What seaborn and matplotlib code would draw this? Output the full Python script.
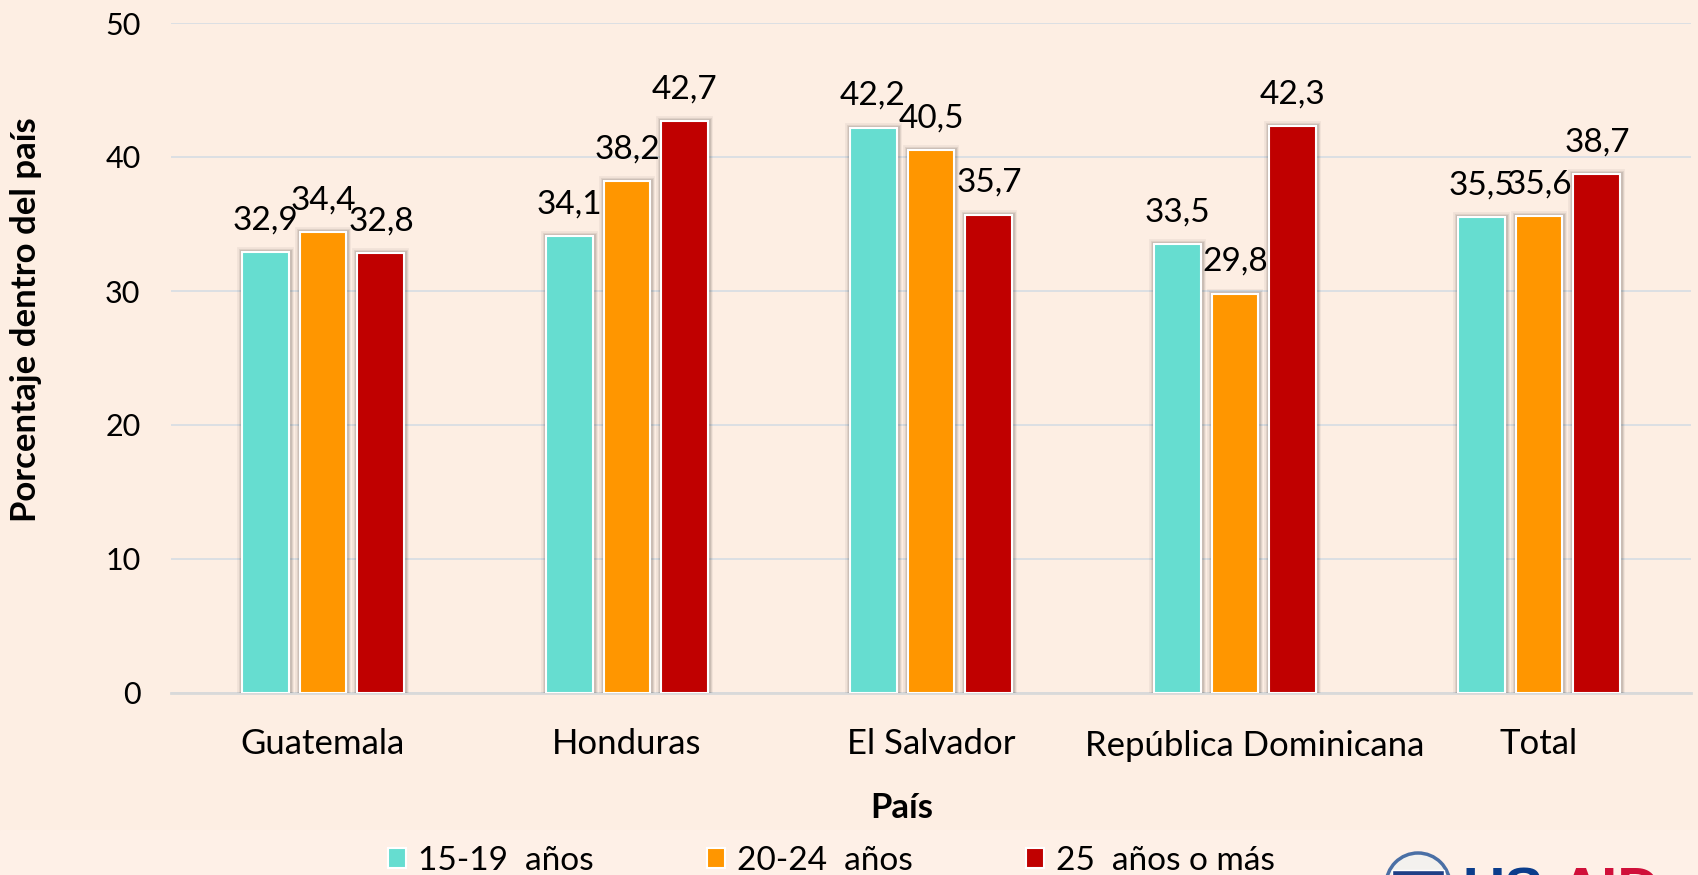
import matplotlib
matplotlib.use('Agg')
import matplotlib.pyplot as plt
import matplotlib.patheffects as pe
from matplotlib.patches import Circle, Rectangle
from matplotlib.transforms import ScaledTranslation
import pandas as pd
import seaborn as sns

paises = ['Guatemala', 'Honduras', 'El Salvador', 'República Dominicana', 'Total']
edad_15_19 = [32.9, 34.1, 42.2, 33.5, 35.5]
edad_20_24 = [34.4, 38.2, 40.5, 29.8, 35.6]
edad_25_mas = [32.8, 42.7, 35.7, 42.3, 38.7]
grupos = ['15-19  años', '20-24  años', '25  años o más']
colores = ['#66DDD0', '#FF9600', '#C00000']
fondo = '#FDEEE3'

W, H = 1698, 875

df = pd.DataFrame({'pais': paises, grupos[0]: edad_15_19, grupos[1]: edad_20_24, grupos[2]: edad_25_mas})
df = df.melt(id_vars='pais', var_name='grupo', value_name='pct')

sns.set_theme(style='white')
plt.rcParams['font.family'] = ['Lato', 'DejaVu Sans']

fig = plt.figure(figsize=(W / 100, H / 100), dpi=100, facecolor=fondo)
ax = fig.add_axes([171 / W, 1 - 693 / H, 1520 / W, 670 / H], facecolor=fondo)

# lighter strip behind the legend, as in the source slide
fig.patches.append(Rectangle((0, 0), 1, 1 - 830 / H, transform=fig.transFigure, color='#FEF0E7', zorder=-1))

sns.barplot(data=df, x='pais', y='pct', hue='grupo', palette=colores, saturation=1,
            width=0.572, gap=0.19, edgecolor='white', linewidth=1.5, ax=ax, zorder=3)

# soft shadow round the bars
sombra = [pe.Stroke(linewidth=7, foreground='black', alpha=0.05),
          pe.Stroke(linewidth=5, foreground='black', alpha=0.07),
          pe.Stroke(linewidth=3.5, foreground='black', alpha=0.10),
          pe.Normal()]
for cont in ax.containers:
    for b in cont:
        b.set_path_effects(sombra)
    ax.bar_label(cont, labels=[f'{v:.1f}'.replace('.', ',') for v in cont.datavalues],
                 padding=12, fontsize=24, color='black', zorder=5)

ax.set_ylim(0, 50)
ax.set_yticks([0, 10, 20, 30, 40, 50])
ax.yaxis.grid(True, color='#D9DEE3', linewidth=1.3, zorder=0)
ax.set_axisbelow(True)
ax.tick_params(axis='y', length=0, pad=22, labelsize=22, labelcolor='black')
ax.tick_params(axis='x', length=0, pad=25, labelsize=25, labelcolor='black')
for s in ['top', 'right', 'left']:
    ax.spines[s].set_visible(False)
ax.spines['bottom'].set_color('#D9D9D9')
ax.spines['bottom'].set_linewidth(2)

etiqueta = ax.get_xticklabels()[3]
etiqueta.set_transform(etiqueta.get_transform() + ScaledTranslation(20 / 100, -2 / 100, fig.dpi_scale_trans))

ax.set_xlabel('')
ax.set_ylabel('')
fig.text(26 / W, 1 - 320 / H, 'Porcentaje dentro del país', rotation=90, fontsize=25, fontweight='bold',
         ha='center', va='center', color='black')
fig.text(902 / W, 1 - 808 / H, 'País', fontsize=25, fontweight='bold', ha='center', va='center', color='black')

handles, labels = ax.get_legend_handles_labels()
ax.get_legend().remove()
leg = fig.legend(handles, labels, ncol=3, loc='lower left', bbox_to_anchor=(358 / W, -31 / H), frameon=False,
                 fontsize=24, handlelength=0.55, handleheight=0.55, handletextpad=0.35, columnspacing=3.4,
                 labelcolor='black')
for h in leg.legend_handles:
    h.set_path_effects([])

# logo, cut off at the bottom edge
fig.patches.append(Circle((1418, H - 885), 32, transform=None, facecolor='#F3F1EE', edgecolor='#4A6FA5', linewidth=2.5))
fig.patches.append(Rectangle((1392, H - 890), 52, 20, transform=None, facecolor='#1F3F86'))
fig.text(1463 / W, 1 - 908 / H, 'US', fontsize=42, fontweight='bold', color='#0B3D8C', family='Liberation Sans')
fig.text(1560 / W, 1 - 908 / H, 'AID', fontsize=42, fontweight='bold', color='#D0103A', family='Liberation Sans')

fig.savefig('out.png', dpi=100, facecolor=fondo)
